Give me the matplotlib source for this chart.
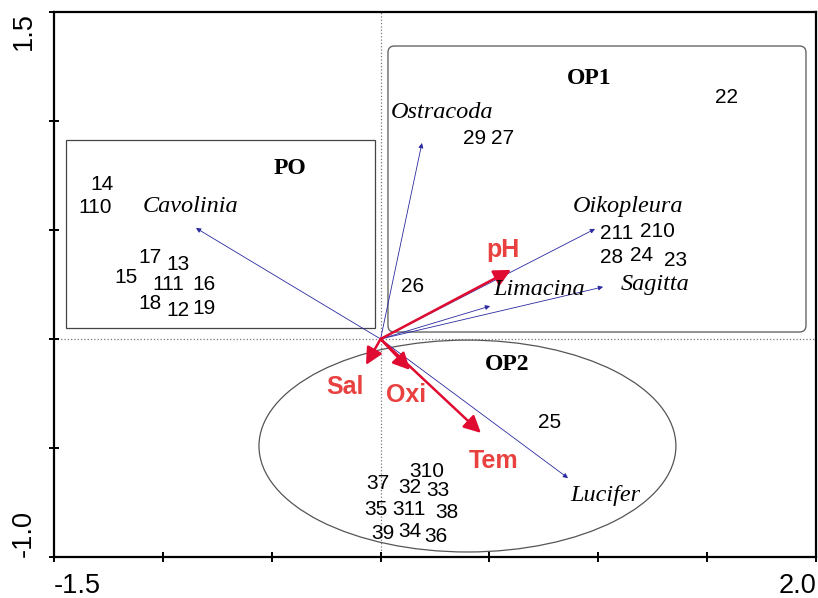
import matplotlib
matplotlib.use("Agg")
import matplotlib.pyplot as plt
from matplotlib.patches import Rectangle, Ellipse, FancyBboxPatch

# site scores (label, axis 1, axis 2)
sites = ["14", "110", "17", "13", "15", "111", "16", "18", "12", "19",
         "26", "29", "27", "22", "211", "210", "28", "24", "23",
         "25", "310", "37", "32", "33", "35", "311", "38", "39", "34", "36"]
site_x = [-1.280, -1.312, -1.059, -0.930, -1.169, -0.976, -0.811, -1.059, -0.930, -0.811,
          0.149, 0.434, 0.562, 1.587, 1.086, 1.270, 1.063, 1.201, 1.353,
          0.778, 0.213, -0.012, 0.135, 0.264, -0.021, 0.131, 0.305, 0.011, 0.135, 0.255]
site_y = [0.711, 0.601, 0.372, 0.344, 0.280, 0.252, 0.252, 0.161, 0.133, 0.142,
          0.239, 0.922, 0.922, 1.106, 0.482, 0.491, 0.372, 0.381, 0.362,
          -0.381, -0.606, -0.665, -0.683, -0.693, -0.784, -0.780, -0.798, -0.890, -0.885, -0.908]

# species vectors
species = ["Cavolinia", "Ostracoda", "Oikopleura", "Limacina", "Sagitta", "Lucifer"]
sp_x = [-0.848, 0.190, 0.985, 0.503, 1.022, 0.861]
sp_y = [0.509, 0.899, 0.505, 0.151, 0.239, -0.638]
sp_lab_x = [-0.871, 0.282, 1.137, 0.728, 1.261, 1.031]
sp_lab_y = [0.606, 1.041, 0.610, 0.225, 0.252, -0.716]

# environmental vectors
env = ["pH", "Sal", "Oxi", "Tem"]
env_x = [0.599, -0.067, 0.135, 0.461]
env_y = [0.317, -0.119, -0.142, -0.431]
env_lab_x = [0.562, -0.163, 0.117, 0.517]
env_lab_y = [0.408, -0.220, -0.257, -0.560]

groups = ["PO", "OP1", "OP2"]
group_x = [-0.416, 0.958, 0.581]
group_y = [0.784, 1.193, -0.115]

SANS = "Liberation Sans"
SERIF = "Liberation Serif"

fig = plt.figure(figsize=(8.18, 5.98), dpi=100)
ax = fig.add_axes([54 / 818, 41 / 598, 762 / 818, 545 / 598])
ax.set_xlim(-1.5, 2.0)
ax.set_ylim(-1.0, 1.5)

ax.axhline(0, color="#777777", ls=":", lw=0.9, zorder=1)
ax.axvline(0, color="#777777", ls=":", lw=0.9, zorder=1)

# group outlines
ax.add_patch(Rectangle((-1.445, 0.050), 1.4195, 0.863, fill=False,
                       ec="#444444", lw=0.9, zorder=2))
ax.add_patch(FancyBboxPatch((0.034, 0.032), 1.920, 1.312,
                            boxstyle="round,pad=0,rounding_size=0.03",
                            fill=False, ec="#666666", lw=1.0, zorder=2))
ax.add_patch(Ellipse((0.399, -0.491), 1.915, 0.972, fill=False,
                     ec="#555555", lw=0.9, zorder=2))

for name, x, y, lx, ly in zip(species, sp_x, sp_y, sp_lab_x, sp_lab_y):
    ax.annotate("", xy=(x, y), xytext=(0, 0),
                arrowprops=dict(arrowstyle="-|>", color="#2a2aa0", lw=0.6,
                                mutation_scale=7, shrinkA=0, shrinkB=0),
                zorder=3)
    ax.text(lx, ly, name, family=SERIF, style="italic", fontsize=17.5,
            ha="center", va="center", color="black", zorder=5)

for name, x, y, lx, ly in zip(env, env_x, env_y, env_lab_x, env_lab_y):
    ax.annotate("", xy=(x, y), xytext=(0, 0),
                arrowprops=dict(arrowstyle="-|>,head_length=0.6,head_width=0.3",
                                color="#e00b30", lw=1.8,
                                mutation_scale=17, shrinkA=0, shrinkB=0),
                zorder=4)
    ax.text(lx, ly, name, family=SANS, weight="bold", fontsize=18,
            ha="center", va="center", color="#e8413f", zorder=5)

for name, x, y in zip(sites, site_x, site_y):
    ax.text(x, y, name, family=SANS, fontsize=15, ha="center", va="center",
            color="black", zorder=5)

for name, x, y in zip(groups, group_x, group_y):
    ax.text(x, y, name, family=SERIF, weight="bold", fontsize=17,
            ha="center", va="center", color="black", zorder=5)

for s in ax.spines.values():
    s.set_linewidth(1.6)

ax.set_xticks([-1.5, -1.0, -0.5, 0.0, 0.5, 1.0, 1.5, 2.0])
ax.set_xticklabels(["-1.5", "", "", "", "", "", "", "2.0"])
ax.set_yticks([-1.0, -0.5, 0.0, 0.5, 1.0, 1.5])
ax.set_yticklabels(["-1.0", "", "", "", "", "1.5"], rotation=90, va="center")
ax.tick_params(direction="inout", length=7, width=1.4)
ax.tick_params(axis="x", pad=8)
ax.tick_params(axis="y", pad=9)
for lab in ax.get_xticklabels() + ax.get_yticklabels():
    lab.set_fontfamily(SANS)
    lab.set_fontsize(19.5)
xl = ax.get_xticklabels()
xl[0].set_ha("left")
xl[-1].set_ha("right")
yl = ax.get_yticklabels()
yl[0].set_va("bottom")
yl[-1].set_va("top")

fig.savefig("out.png", dpi=100)
